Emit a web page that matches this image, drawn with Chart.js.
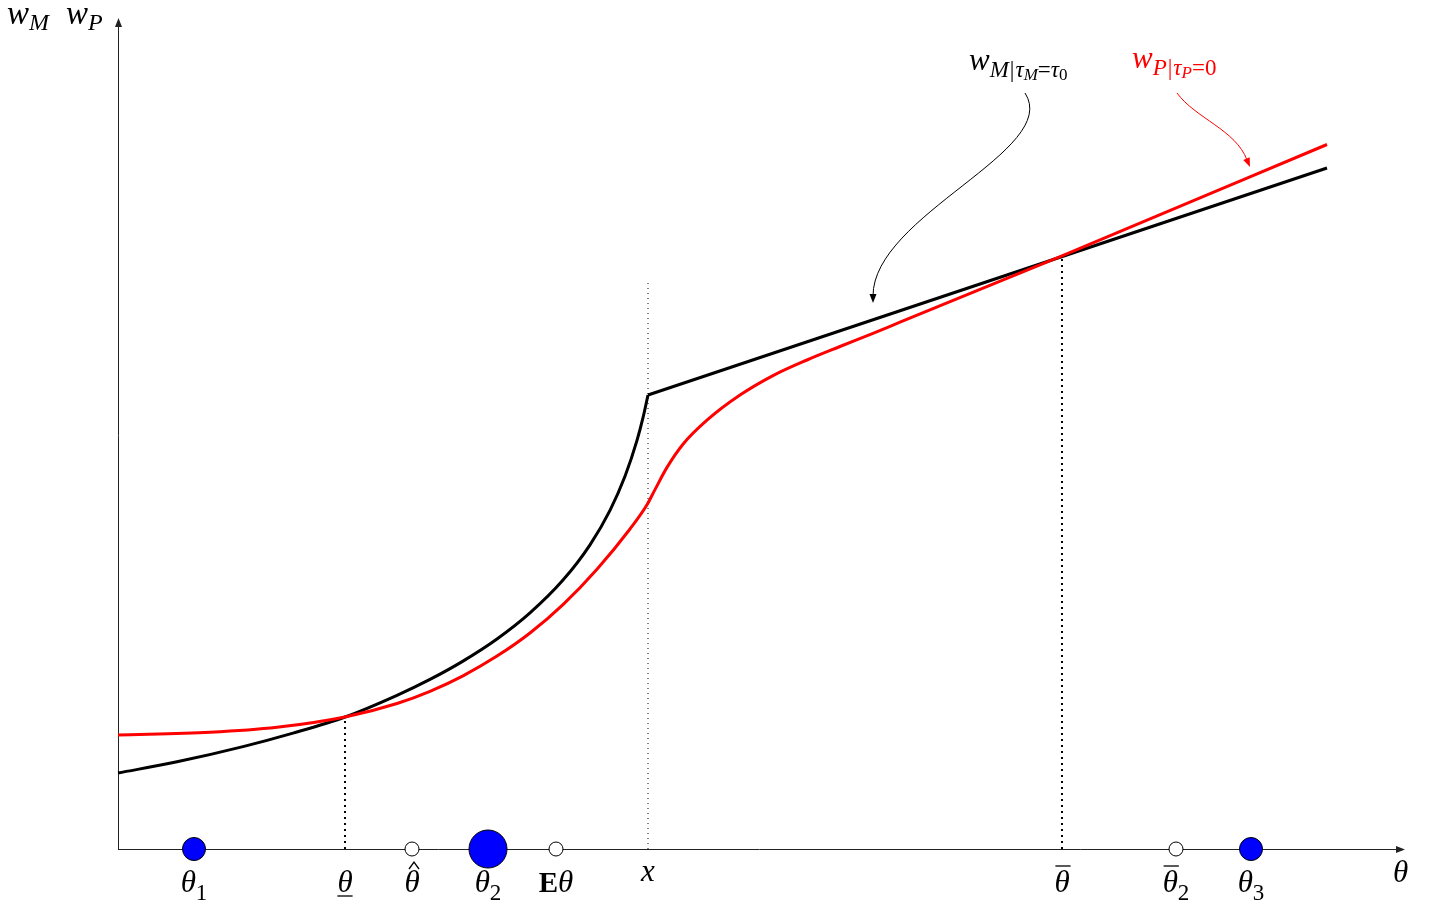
<!DOCTYPE html>
<html>
<head>
<meta charset="utf-8">
<script src="https://cdn.jsdelivr.net/npm/chart.js@4.4.1/dist/chart.umd.min.js"></script>
<style>
html, body { margin: 0; padding: 0; background: #fff; }
canvas { display: block; }
</style>
</head>
<body>
<canvas id="chart" width="1429" height="905"></canvas>
<script>
// w_M with tau_M = tau_0 : convex part up to the kink at x, then linear
const wmCurveX = [0, 0.59, 1.25, 1.75, 2.27, 2.79, 3.12, 3.45, 3.79, 4.12, 4.45, 4.72, 4.92, 5.07, 5.19, 5.25, 5.30];
const wmCurveY = [0.76, 0.872, 1.024, 1.159, 1.32, 1.537, 1.696, 1.879, 2.10, 2.361, 2.689, 3.042, 3.387, 3.727, 4.086, 4.313, 4.54];
const wmLineX = [5.30, 12.09];
const wmLineY = [4.54, 6.81];

// w_P with tau_P = 0
const wpX = [0, 0.92, 1.59, 2.27, 2.79, 3.12, 3.45, 3.79, 4.12, 4.45, 4.79, 5.12, 5.29, 5.37, 5.49, 5.65, 5.89, 6.22, 6.55, 6.89, 7.22, 7.55, 7.82, 9.44, 12.09];
const wpY = [1.14, 1.167, 1.217, 1.32, 1.455, 1.577, 1.732, 1.929, 2.16, 2.444, 2.798, 3.20, 3.442, 3.594, 3.816, 4.048, 4.288, 4.539, 4.734, 4.89, 5.025, 5.157, 5.268, 5.932, 7.045];

// support points on the theta axis
const atomX = [0.76, 3.70, 11.33];
const atomMass = [0.25, 0.5, 0.25];
const openX = [2.94, 4.38, 10.58];

// vertical guides
const guideX = [2.27, 5.30, 9.44];
const guideTop = [1.32, 5.69, 5.92];

// tick labels under the axis
const tickX = [0.76, 2.27, 2.94, 3.70, 4.38, 5.30, 9.44, 10.58, 11.33];
const tickLabels = [
  { base: "θ", sub: "1" },
  { base: "θ", deco: "under" },
  { base: "θ", deco: "hat" },
  { base: "θ", sub: "2" },
  { pre: "E", base: "θ" },
  { base: "x" },
  { base: "θ", deco: "bar" },
  { base: "θ", sub: "2", deco: "bar" },
  { base: "θ", sub: "3" }
];

const xMax = 12.87;
const yMax = 8.31;

const FONT = '"Liberation Serif", "DejaVu Serif", serif';
const it = (s) => `italic ${s}px ${FONT}`;
const rm = (s) => `${s}px ${FONT}`;
const bf = (s) => `bold ${s}px ${FONT}`;

const zip = (xs, ys) => xs.map((x, i) => ({ x: x, y: ys[i] }));

function drawParts(ctx, parts, x, y, align) {
  let w = 0;
  parts.forEach((p) => {
    ctx.font = p.f;
    p.w = ctx.measureText(p.t).width + (p.gap || 0);
    w += p.w;
  });
  let cx = align === "center" ? x - w / 2 : x;
  const boxes = [];
  ctx.textAlign = "left";
  ctx.textBaseline = "alphabetic";
  parts.forEach((p) => {
    ctx.font = p.f;
    ctx.fillText(p.t, cx + (p.gap || 0) / 2, y + (p.dy || 0));
    boxes.push({ l: cx, w: p.w });
    cx += p.w;
  });
  return boxes;
}

function arrowHead(ctx, tx, ty, angle, len, half) {
  ctx.beginPath();
  ctx.moveTo(tx, ty);
  ctx.lineTo(tx - len * Math.cos(angle) + half * Math.sin(angle), ty - len * Math.sin(angle) - half * Math.cos(angle));
  ctx.lineTo(tx - len * Math.cos(angle) - half * Math.sin(angle), ty - len * Math.sin(angle) + half * Math.cos(angle));
  ctx.closePath();
  ctx.fill();
}

const decorPlugin = {
  id: "decor",
  beforeDatasetsDraw(chart) {
    const ctx = chart.ctx;
    const xs = chart.scales.x;
    const ys = chart.scales.y;
    const x0 = xs.getPixelForValue(0);
    const y0 = ys.getPixelForValue(0);
    ctx.save();
    ctx.strokeStyle = "#222";
    ctx.fillStyle = "#222";
    ctx.lineWidth = 1;
    ctx.beginPath();
    ctx.moveTo(x0, y0 + 0.5);
    ctx.lineTo(xs.getPixelForValue(xMax) - 4, y0 + 0.5);
    ctx.moveTo(x0 + 0.5, y0);
    ctx.lineTo(x0 + 0.5, ys.getPixelForValue(yMax) + 4);
    ctx.stroke();
    arrowHead(ctx, xs.getPixelForValue(xMax), y0 + 0.5, 0, 9, 3.5);
    arrowHead(ctx, x0 + 0.5, ys.getPixelForValue(yMax), -Math.PI / 2, 9, 3.5);
    ctx.restore();
  },
  afterDraw(chart) {
    const ctx = chart.ctx;
    const xs = chart.scales.x;
    const ys = chart.scales.y;
    const y0 = ys.getPixelForValue(0);
    ctx.save();
    ctx.fillStyle = "#000";
    ctx.strokeStyle = "#000";

    // tick labels
    tickLabels.forEach((lab, i) => {
      const cx = xs.getPixelForValue(tickX[i]);
      const isShort = lab.base === "x";
      const base = y0 + (isShort ? 32 : 43);
      const parts = [];
      if (lab.pre) parts.push({ t: lab.pre, f: bf(29) });
      parts.push({ t: lab.base, f: it(31) });
      if (lab.sub) parts.push({ t: lab.sub, f: rm(23), dy: 8 });
      const boxes = drawParts(ctx, parts, cx, base, "center");
      const b = boxes[lab.pre ? 1 : 0];
      ctx.lineWidth = 1.3;
      if (lab.deco === "under") {
        ctx.beginPath();
        ctx.moveTo(b.l, base + 4);
        ctx.lineTo(b.l + b.w, base + 4);
        ctx.stroke();
      } else if (lab.deco === "bar") {
        ctx.beginPath();
        ctx.moveTo(b.l + 1, base - 26);
        ctx.lineTo(b.l + b.w + 1, base - 26);
        ctx.stroke();
      } else if (lab.deco === "hat") {
        const m = b.l + b.w / 2 + 2;
        ctx.beginPath();
        ctx.moveTo(m - 5, base - 23);
        ctx.lineTo(m, base - 30);
        ctx.lineTo(m + 5, base - 23);
        ctx.stroke();
      }
    });

    // axis names
    drawParts(ctx, [{ t: "θ", f: it(31) }], xs.getPixelForValue(xMax) - 12, y0 + 33, "left");
    drawParts(ctx, [{ t: "w", f: it(33) }, { t: "M", f: it(24), dy: 6 }], 7, 24, "left");
    drawParts(ctx, [{ t: "w", f: it(33) }, { t: "P", f: it(24), dy: 6 }], 66, 24, "left");

    // annotation: w_M
    drawParts(ctx, [
      { t: "w", f: it(31) }, { t: "M", f: it(23), dy: 7 }, { t: "|", f: rm(23), dy: 7, gap: 2 },
      { t: "τ", f: it(23), dy: 7 }, { t: "M", f: it(17), dy: 10 }, { t: "=", f: rm(23), dy: 7 },
      { t: "τ", f: it(23), dy: 7 }, { t: "0", f: rm(17), dy: 10 }
    ], 969, 70, "left");

    // annotation: w_P
    ctx.fillStyle = "#ff0000";
    drawParts(ctx, [
      { t: "w", f: it(31) }, { t: "P", f: it(23), dy: 7 }, { t: "|", f: rm(23), dy: 7, gap: 2 },
      { t: "τ", f: it(23), dy: 7 }, { t: "P", f: it(17), dy: 10 }, { t: "=0", f: rm(23), dy: 7 }
    ], 1132, 68, "left");

    // curved pointers
    ctx.lineWidth = 1;
    ctx.strokeStyle = "#000";
    ctx.fillStyle = "#000";
    ctx.beginPath();
    ctx.moveTo(1025, 93);
    ctx.bezierCurveTo(1062, 150, 873, 215, 873, 296);
    ctx.stroke();
    arrowHead(ctx, 873, 303, Math.PI / 2, 9, 3.5);

    ctx.strokeStyle = "#ff0000";
    ctx.fillStyle = "#ff0000";
    ctx.beginPath();
    ctx.moveTo(1177, 93);
    ctx.bezierCurveTo(1195, 118, 1236, 130, 1247, 160);
    ctx.stroke();
    arrowHead(ctx, 1250, 167, Math.atan2(7, 3), 9, 3.5);
    ctx.restore();
  }
};

const guideSets = guideX.map((gx, i) => ({
  data: [{ x: gx, y: 0 }, { x: gx, y: guideTop[i] }],
  borderColor: "#000",
  borderWidth: i === 1 ? 1 : 2,
  borderDash: i === 1 ? [1, 4] : [2, 4],
  pointRadius: 0,
  fill: false
}));

new Chart(document.getElementById("chart"), {
  type: "line",
  data: {
    datasets: [
      {
        data: atomX.map((x) => ({ x: x, y: 0 })),
        showLine: false,
        pointRadius: atomMass.map((m) => 4 + 30 * m),
        pointBackgroundColor: "#0000ff",
        pointBorderColor: "#000",
        pointBorderWidth: 1,
        clip: false
      },
      {
        data: openX.map((x) => ({ x: x, y: 0 })),
        showLine: false,
        pointRadius: 7,
        pointBackgroundColor: "#fff",
        pointBorderColor: "#000",
        pointBorderWidth: 1,
        clip: false
      },
      {
        data: zip(wpX, wpY),
        borderColor: "#ff0000",
        borderWidth: 3,
        pointRadius: 0,
        cubicInterpolationMode: "monotone",
        fill: false,
        clip: false
      },
      {
        data: zip(wmCurveX, wmCurveY),
        borderColor: "#000",
        borderWidth: 3,
        pointRadius: 0,
        cubicInterpolationMode: "monotone",
        fill: false,
        clip: false
      },
      {
        data: zip(wmLineX, wmLineY),
        borderColor: "#000",
        borderWidth: 3,
        pointRadius: 0,
        fill: false,
        clip: false
      },
      ...guideSets
    ]
  },
  options: {
    responsive: false,
    animation: false,
    layout: { padding: { left: 118, right: 24, top: 18, bottom: 56 } },
    scales: {
      x: { type: "linear", min: 0, max: xMax, display: false },
      y: { type: "linear", min: 0, max: yMax, display: false }
    },
    plugins: {
      legend: { display: false },
      tooltip: { enabled: false }
    }
  },
  plugins: [decorPlugin]
});
</script>
</body>
</html>
